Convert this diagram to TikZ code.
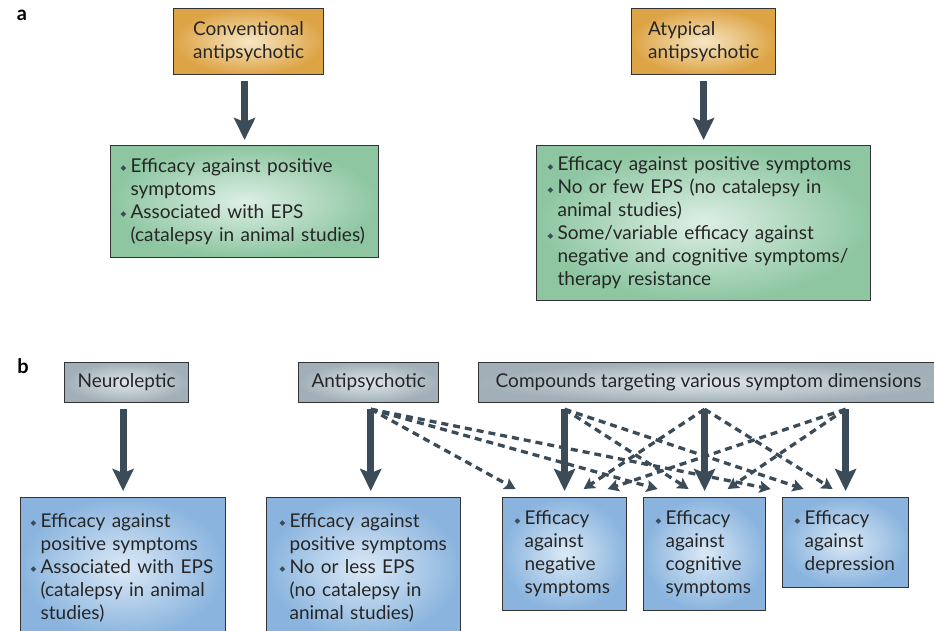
\documentclass[tikz,border=0pt]{standalone}
\usepackage{fontspec}
\setmainfont{Lato}
\newfontfamily\symbfont{DejaVu Sans}
\usetikzlibrary{arrows.meta}

\definecolor{arrowc}{HTML}{3B4B57}
\definecolor{orangeout}{HTML}{DDA446}
\definecolor{orangein}{HTML}{F7E6C4}
\definecolor{greenout}{HTML}{8DC6A1}
\definecolor{greenin}{HTML}{DDEFE4}
\definecolor{blueout}{HTML}{8AB4DE}
\definecolor{bluein}{HTML}{DBE9F6}
\definecolor{greyout}{HTML}{A1AFB8}
\definecolor{greyin}{HTML}{E0E6EA}

\newcommand{\bul}{\makebox[10pt][l]{\raisebox{1.8pt}{\textcolor{arrowc}{\symbfont\fontsize{7.5}{7.5}\selectfont ◆}}}}
\newcommand{\ind}{\hspace*{10pt}}

\tikzset{
  box/.style={draw=black!80, line width=1.2pt, anchor=north west, inner xsep=13pt, inner ysep=6pt,
    text=black!85, font=\fontsize{19}{23}\selectfont},
  orangebox/.style={box, inner color=orangein, outer color=orangeout, align=left},
  greybox/.style={box, inner color=greyin, outer color=greyout, align=center},
  greenbox/.style={box, inner color=greenin, outer color=greenout, align=left},
  bluebox/.style={box, inner color=bluein, outer color=blueout, align=left},
  panel/.style={font=\fontsize{20}{20}\selectfont\bfseries, inner sep=0pt},
  bigarr/.style={draw=arrowc, line width=7pt, -{Stealth[width=21pt,length=22pt,inset=4pt]}},
  dasharr/.style={draw=arrowc, line width=3.3pt, dash pattern=on 7pt off 5pt,
    -{Stealth[width=12pt,length=11pt,inset=2pt]}}
}

\begin{document}
\begin{tikzpicture}[x=1pt,y=-1pt]
  \useasboundingbox (0,0) rectangle (934,630);

  % panel a
  \node[panel] (la) at (22,15) {a};
  \node[orangebox, minimum width=150pt, minimum height=66pt] (conv) at (173,8) {Conventional\\antipsychotic};
  \node[orangebox, minimum width=144pt, minimum height=66pt] (atyp) at (631,8) {Atypical\\antipsychotic};
  \node[greenbox, inner xsep=10pt, text width=248pt, minimum height=112pt] (effc) at (110,145)
    {\bul Efficacy against positive\\ \ind symptoms\\ \bul Associated with EPS\\ \ind (catalepsy in animal studies)};
  \node[greenbox, inner xsep=11pt, text width=312pt, minimum height=155pt] (effa) at (536,145)
    {\bul Efficacy against positive symptoms\\ \bul No or few EPS (no catalepsy in\\ \ind animal studies)\\
     \bul Some/variable efficacy against\\ \ind negative and cognitive symptoms/\\ \ind therapy resistance};
  \path (effc.north |- conv.south) ++(0,6) coordinate (a1);
  \path (effa.north |- atyp.south) ++(0,6) coordinate (a2);
  \draw[bigarr] (a1) -- ([yshift=5pt]effc.north);
  \draw[bigarr] (a2) -- ([yshift=5pt]effa.north);

  % panel b
  \node[panel] (lb) at (23,366) {b};
  \node[greybox, minimum width=124pt, minimum height=40pt] (neur) at (64,362) {Neuroleptic};
  \node[greybox, minimum width=135pt, minimum height=40pt] (anti) at (298,362) {Antipsychotic};
  \node[greybox, minimum width=460pt, minimum height=40pt] (comp) at (478,362) {Compounds targeting various symptom dimensions};

  \node[bluebox, inner xsep=10pt, text width=185pt, minimum height=140pt] (posn) at (20,497)
    {\bul Efficacy against\\ \ind positive symptoms\\ \bul Associated with EPS\\ \ind (catalepsy in animal\\ \ind studies)};
  \node[bluebox, text width=168pt, minimum height=140pt] (posa) at (266,497)
    {\bul Efficacy against\\ \ind positive symptoms\\ \bul No or less EPS\\ \ind (no catalepsy in\\ \ind animal studies)};
  \node[bluebox, inner xsep=12pt, text width=100pt, minimum height=113pt] (neg) at (502,497)
    {\bul Efficacy\\ \ind against\\ \ind negative\\ \ind symptoms};
  \node[bluebox, inner xsep=12pt, text width=98pt, minimum height=113pt] (cog) at (643,497)
    {\bul Efficacy\\ \ind against\\ \ind cognitive\\ \ind symptoms};
  \node[bluebox, inner xsep=12pt, text width=102pt, minimum height=90pt] (dep) at (782,497)
    {\bul Efficacy\\ \ind against\\ \ind depression};

  \path (posn.north |- neur.south) ++(0,6) coordinate (b1);
  \path (anti.south) ++(2,6) coordinate (b2);
  \path (neg.north |- comp.south) ++(0,6) coordinate (c1);
  \path (cog.north |- comp.south) ++(0,6) coordinate (c2);
  \path (dep.north |- comp.south) ++(0,6) coordinate (c3);

  \draw[dasharr] (b2) -- ([shift={(-49,-8)}]neg.north);
  \draw[dasharr] (b2) -- ([shift={(-47,-8)}]cog.north);
  \draw[dasharr] (b2) -- ([shift={(-75,-8)}]dep.north);
  \draw[dasharr] (c1) -- ([shift={(-16,-8)}]cog.north);
  \draw[dasharr] (c1) -- ([shift={(-42,-8)}]dep.north);
  \draw[dasharr] (c2) -- ([shift={(19,-8)}]neg.north);
  \draw[dasharr] (c2) -- ([shift={(-13,-8)}]dep.north);
  \draw[dasharr] (c3) -- ([shift={(43,-8)}]neg.north);
  \draw[dasharr] (c3) -- ([shift={(23,-8)}]cog.north);

  \draw[bigarr] (b1) -- ([yshift=6pt]posn.north);
  \draw[bigarr] (b2) -- ([yshift=6pt]posa.north -| b2);
  \draw[bigarr] (c1) -- ([yshift=6pt]neg.north);
  \draw[bigarr] (c2) -- ([yshift=6pt]cog.north);
  \draw[bigarr] (c3) -- ([yshift=6pt]dep.north);
\end{tikzpicture}
\end{document}
